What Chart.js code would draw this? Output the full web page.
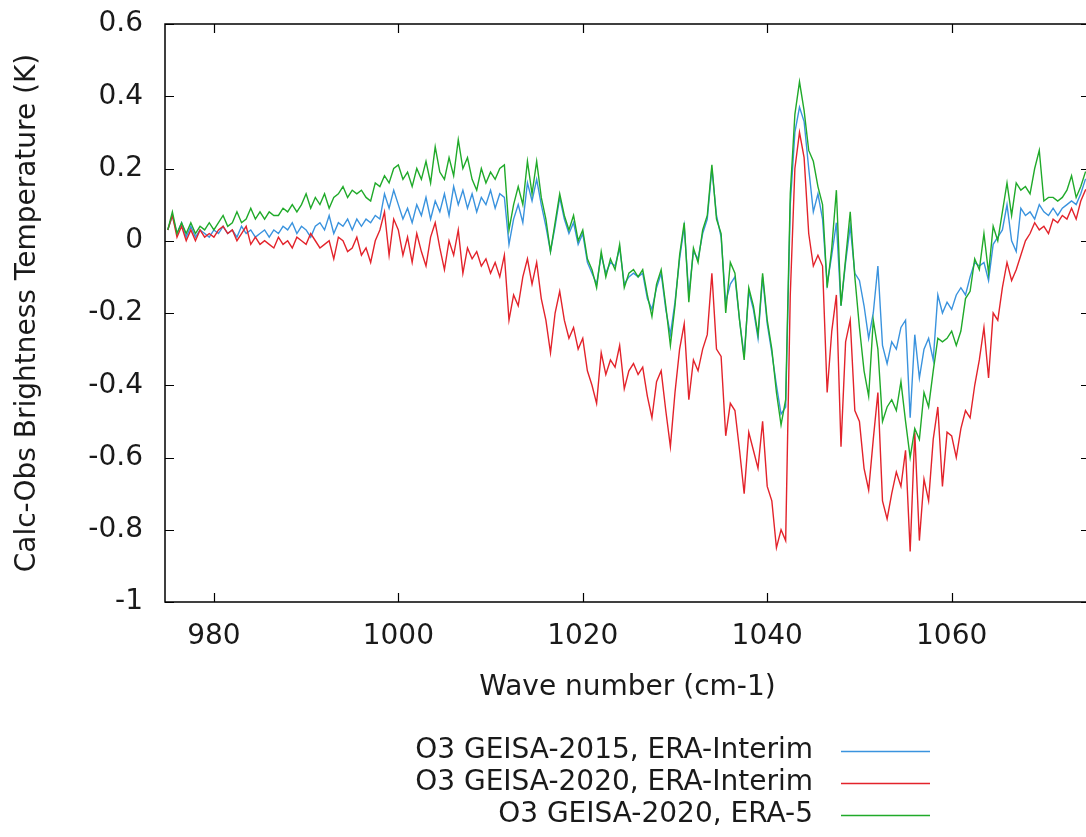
<!DOCTYPE html>
<html>
<head>
<meta charset="utf-8">
<script src="https://cdn.jsdelivr.net/npm/chart.js@4.4.0/dist/chart.umd.min.js"></script>
<style>
html, body { margin: 0; padding: 0; overflow: hidden; background: #fff; }
#wrap { width: 1100px; height: 837px; }
</style>
</head>
<body>
<div id="wrap"><canvas id="myChart" width="1100" height="837"></canvas></div>
<script>
// spectra sampled every 0.5 cm-1 starting at 975 cm-1
const waveStart = 975;
const waveStep = 0.5;

const xTicks = [980, 1000, 1020, 1040, 1060];
const yTicks = [-1, -0.8, -0.6, -0.4, -0.2, 0, 0.2, 0.4, 0.6];

const labels = [
    'O3 GEISA-2015, ERA-Interim',
    'O3 GEISA-2020, ERA-Interim',
    'O3 GEISA-2020, ERA-5'
];

// O3 GEISA-2015, ERA-Interim
const geisa2015Interim = [
    0.03, 0.07, 0.02, 0.05, 0.01, 0.04, 0.01, 0.03, 0.02, 0.01,
    0.03, 0.02, 0.04, 0.02, 0.03, 0.01, 0.04, 0.02, 0.03, 0.01,
    0.02, 0.03, 0.01, 0.03, 0.02, 0.04, 0.03, 0.05, 0.02, 0.04,
    0.03, 0.01, 0.04, 0.05, 0.03, 0.07, 0.02, 0.05, 0.04, 0.06,
    0.03, 0.06, 0.04, 0.06, 0.05, 0.07, 0.06, 0.13, 0.09, 0.14,
    0.10, 0.06, 0.09, 0.05, 0.10, 0.07, 0.12, 0.06, 0.11, 0.08,
    0.13, 0.07, 0.15, 0.10, 0.14, 0.09, 0.13, 0.08, 0.12, 0.10,
    0.14, 0.09, 0.13, 0.12, -0.01, 0.06, 0.10, 0.05, 0.16, 0.11,
    0.17, 0.10, 0.04, -0.03, 0.04, 0.12, 0.06, 0.02, 0.05, -0.01,
    0.02, -0.06, -0.09, -0.12, -0.04, -0.09, -0.06, -0.07, -0.02, -0.12,
    -0.10, -0.09, -0.10, -0.09, -0.16, -0.19, -0.13, -0.09, -0.19, -0.26,
    -0.17, -0.05, 0.04, -0.15, -0.03, -0.05, 0.02, 0.06, 0.20, 0.07,
    0.01, -0.17, -0.12, -0.10, -0.22, -0.32, -0.14, -0.19, -0.27, -0.10,
    -0.23, -0.31, -0.40, -0.48, -0.46, 0.10, 0.30, 0.37, 0.33, 0.20,
    0.08, 0.13, 0.06, -0.12, -0.04, 0.05, -0.18, -0.06, 0.04, -0.09,
    -0.11, -0.18, -0.27, -0.20, -0.07, -0.29, -0.34, -0.28, -0.30, -0.24,
    -0.22, -0.49, -0.26, -0.38, -0.30, -0.27, -0.33, -0.15, -0.20, -0.17,
    -0.19, -0.15, -0.13, -0.15, -0.10, -0.06, -0.07, -0.06, -0.11, -0.01,
    0.01, 0.03, 0.10, 0.00, -0.03, 0.09, 0.07, 0.08, 0.06, 0.10,
    0.08, 0.07, 0.09, 0.07, 0.09, 0.10, 0.11, 0.10, 0.13, 0.17,
    0.17
];

// O3 GEISA-2020, ERA-Interim
const geisa2020Interim = [
    0.03, 0.07, 0.01, 0.04, 0.00, 0.03, 0.00, 0.03, 0.01, 0.02,
    0.01, 0.03, 0.04, 0.02, 0.03, 0.00, 0.02, 0.04, -0.01, 0.01,
    -0.01, 0.00, -0.01, -0.02, 0.01, -0.01, 0.00, -0.02, 0.01, 0.00,
    -0.01, 0.02, 0.00, -0.02, -0.01, 0.00, -0.05, 0.01, 0.00, -0.03,
    -0.02, 0.01, -0.04, -0.02, -0.06, 0.00, 0.03, 0.08, -0.04, 0.06,
    0.03, -0.04, 0.01, -0.06, 0.02, -0.03, -0.07, 0.01, 0.05, -0.02,
    -0.08, 0.00, -0.04, 0.03, -0.09, -0.02, -0.05, -0.03, -0.07, -0.05,
    -0.09, -0.06, -0.10, -0.04, -0.22, -0.15, -0.18, -0.10, -0.05, -0.12,
    -0.06, -0.16, -0.22, -0.31, -0.20, -0.14, -0.22, -0.27, -0.24, -0.30,
    -0.27, -0.36, -0.40, -0.45, -0.31, -0.37, -0.33, -0.35, -0.29, -0.41,
    -0.36, -0.34, -0.37, -0.35, -0.43, -0.49, -0.39, -0.36, -0.47, -0.57,
    -0.42, -0.30, -0.23, -0.44, -0.33, -0.36, -0.30, -0.26, -0.09, -0.30,
    -0.32, -0.54, -0.45, -0.47, -0.58, -0.70, -0.53, -0.58, -0.63, -0.50,
    -0.68, -0.72, -0.85, -0.80, -0.83, -0.15, 0.20, 0.30, 0.23, 0.02,
    -0.07, -0.04, -0.07, -0.42, -0.25, -0.15, -0.57, -0.28, -0.22, -0.47,
    -0.50, -0.63, -0.69, -0.55, -0.42, -0.72, -0.77, -0.70, -0.64, -0.68,
    -0.58, -0.86, -0.53, -0.83, -0.66, -0.72, -0.55, -0.46, -0.68, -0.53,
    -0.54, -0.60, -0.52, -0.47, -0.49, -0.40, -0.33, -0.24, -0.38, -0.20,
    -0.22, -0.13, -0.06, -0.11, -0.08, -0.04, 0.00, 0.02, 0.05, 0.03,
    0.04, 0.02, 0.06, 0.05, 0.07, 0.06, 0.09, 0.06, 0.11, 0.14,
    0.15
];

// O3 GEISA-2020, ERA-5
const geisa2020Era5 = [
    0.03, 0.08, 0.02, 0.05, 0.02, 0.05, 0.02, 0.04, 0.03, 0.05,
    0.03, 0.05, 0.07, 0.04, 0.05, 0.08, 0.05, 0.06, 0.09, 0.06,
    0.08, 0.06, 0.08, 0.07, 0.07, 0.09, 0.08, 0.10, 0.08, 0.10,
    0.13, 0.09, 0.12, 0.10, 0.13, 0.09, 0.12, 0.13, 0.15, 0.12,
    0.14, 0.13, 0.14, 0.12, 0.11, 0.16, 0.15, 0.18, 0.16, 0.20,
    0.21, 0.17, 0.19, 0.15, 0.20, 0.17, 0.22, 0.16, 0.26, 0.19,
    0.17, 0.23, 0.18, 0.28, 0.20, 0.23, 0.17, 0.14, 0.20, 0.16,
    0.19, 0.17, 0.20, 0.21, 0.03, 0.10, 0.15, 0.10, 0.22, 0.13,
    0.22, 0.12, 0.06, -0.03, 0.05, 0.13, 0.07, 0.03, 0.07, 0.00,
    0.03, -0.05, -0.08, -0.13, -0.03, -0.10, -0.05, -0.08, -0.01, -0.13,
    -0.09, -0.08, -0.10, -0.08, -0.15, -0.21, -0.12, -0.08, -0.18, -0.29,
    -0.18, -0.04, 0.05, -0.17, -0.02, -0.06, 0.03, 0.07, 0.21, 0.06,
    0.02, -0.20, -0.06, -0.09, -0.22, -0.33, -0.13, -0.18, -0.26, -0.09,
    -0.22, -0.30, -0.42, -0.51, -0.44, 0.13, 0.35, 0.44, 0.36, 0.25,
    0.22, 0.15, 0.10, -0.13, -0.02, 0.14, -0.18, -0.05, 0.08, -0.10,
    -0.24, -0.36, -0.43, -0.22, -0.30, -0.50, -0.46, -0.44, -0.47, -0.39,
    -0.50, -0.60, -0.52, -0.55, -0.42, -0.46, -0.36, -0.27, -0.28, -0.27,
    -0.25, -0.29, -0.25, -0.16, -0.14, -0.05, -0.08, 0.02, -0.09, 0.04,
    0.00, 0.08, 0.16, 0.07, 0.16, 0.14, 0.15, 0.13, 0.20, 0.25,
    0.11, 0.12, 0.12, 0.11, 0.12, 0.14, 0.18, 0.12, 0.15, 0.19,
    0.19
];

const colors = ['#3a93de', '#e3232b', '#20aa2a'];

const fontFamily = '"DejaVu Sans", Verdana, sans-serif';
const textColor = '#1a1a1a';

function toPoints(vals) {
    return vals.map((v, i) => ({ x: waveStart + i * waveStep, y: v }));
}

// gnuplot style box, inward ticks, axis titles and key
const gnuplotFrame = {
    id: 'gnuplotFrame',
    afterDraw(chart) {
        const ctx = chart.ctx;
        const a = chart.chartArea;
        const xs = chart.scales.x;
        const ys = chart.scales.y;
        ctx.save();
        ctx.strokeStyle = '#000';
        ctx.lineWidth = 1.5;
        ctx.strokeRect(a.left, a.top, a.right - a.left, a.bottom - a.top);

        ctx.lineWidth = 1.2;
        ctx.beginPath();
        yTicks.forEach(v => {
            const y = Math.round(ys.getPixelForValue(v)) + 0.5;
            ctx.moveTo(a.left, y); ctx.lineTo(a.left + 9, y);
            ctx.moveTo(a.right, y); ctx.lineTo(a.right - 9, y);
        });
        xTicks.forEach(v => {
            const x = Math.round(xs.getPixelForValue(v)) + 0.5;
            ctx.moveTo(x, a.bottom); ctx.lineTo(x, a.bottom - 9);
            ctx.moveTo(x, a.top); ctx.lineTo(x, a.top + 9);
        });
        ctx.stroke();

        ctx.fillStyle = textColor;
        ctx.font = '28px ' + fontFamily;
        ctx.textAlign = 'center';
        ctx.textBaseline = 'middle';
        ctx.fillText('Wave number (cm-1)', (a.left + a.right) / 2, 688);

        ctx.save();
        ctx.translate(28, (a.top + a.bottom) / 2);
        ctx.rotate(-Math.PI / 2);
        ctx.fillText('Calc-Obs Brightness Temperature (K)', 0, 0);
        ctx.restore();

        // key
        ctx.textAlign = 'right';
        chart.data.datasets.forEach((ds, i) => {
            const y = 751 + i * 32;
            ctx.fillStyle = textColor;
            ctx.fillText(ds.label, 813, y);
            ctx.strokeStyle = ds.borderColor;
            ctx.lineWidth = 1.3;
            ctx.beginPath();
            ctx.moveTo(841, y + 0.5);
            ctx.lineTo(930, y + 0.5);
            ctx.stroke();
        });
        ctx.restore();
    }
};

const series = [geisa2015Interim, geisa2020Interim, geisa2020Era5];

const data = {
    datasets: series.map((s, i) => ({
        label: labels[i],
        data: toPoints(s),
        borderColor: colors[i],
        borderWidth: 1.4,
        pointRadius: 0,
        tension: 0,
        fill: false,
        order: 3 - i
    }))
};

const config = {
    type: 'line',
    data: data,
    options: {
        responsive: false,
        animation: false,
        devicePixelRatio: 1,
        layout: {
            padding: { top: 24, right: 10, bottom: 0, left: 0 }
        },
        plugins: {
            legend: { display: false },
            tooltip: { enabled: false }
        },
        scales: {
            x: {
                type: 'linear',
                min: 974.7,
                max: 1075,
                afterBuildTicks: scale => { scale.ticks = xTicks.map(v => ({ value: v })); },
                afterFit: scale => {
                    scale.height = 235;
                    scale.paddingLeft = 0;
                    scale.paddingRight = 0;
                },
                grid: { display: false, drawTicks: false },
                border: { display: false },
                ticks: {
                    padding: 18,
                    maxRotation: 0,
                    color: textColor,
                    font: { family: fontFamily, size: 28 },
                    callback: v => String(v)
                }
            },
            y: {
                min: -1,
                max: 0.6,
                afterBuildTicks: scale => { scale.ticks = yTicks.map(v => ({ value: v })); },
                afterFit: scale => {
                    scale.width = 165;
                    scale.paddingTop = 0;
                    scale.paddingBottom = 0;
                },
                grid: { display: false, drawTicks: false },
                border: { display: false },
                ticks: {
                    padding: 22,
                    color: textColor,
                    font: { family: fontFamily, size: 28 },
                    callback: v => String(Number(v.toFixed(1)))
                }
            }
        }
    },
    plugins: [gnuplotFrame]
};

let myChart = new Chart(document.getElementById('myChart').getContext('2d'), config);
</script>
</body>
</html>
